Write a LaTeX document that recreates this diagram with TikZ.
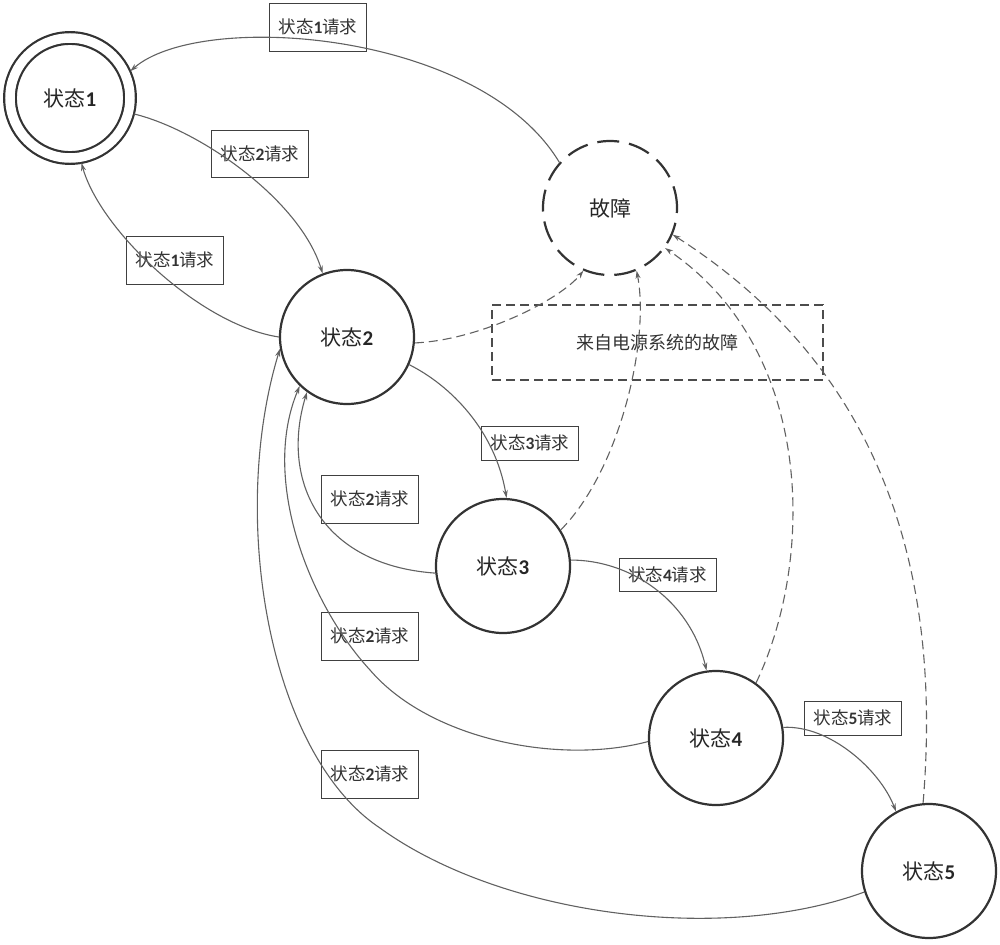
\documentclass[tikz,border=0pt]{standalone}
\usepackage{fontspec}
\setmainfont{Noto Sans CJK SC}
\newfontfamily\dgfont{Carlito}
\newcommand{\dg}[1]{{\dgfont\bfseries #1}}
\usetikzlibrary{arrows.meta}
\begin{document}
\begin{tikzpicture}[x=1pt,y=-1pt,
  state/.style={circle,draw=black!80,line width=2.2pt,minimum size=134pt,inner sep=0pt,
    font=\fontsize{21}{24}\selectfont,text=black!85},
  lbl/.style={draw=black!75,line width=0.9pt,minimum width=97pt,inner sep=0pt,
    font=\fontsize{17.5}{20}\selectfont,text=black!80},
  tr/.style={draw=black!62,line width=1.1pt,-{Stealth[length=8pt,width=5pt]}},
  ftr/.style={tr,dash pattern=on 9pt off 5pt}]
\useasboundingbox (0,0) rectangle (1000,944);

% states
\node[state,double,double distance=9.5pt,minimum size=120pt,outer sep=6pt] (s1) at (70,98) {状态\dg{1}};
\node[state,dash pattern=on 22pt off 10pt] (f) at (610,208) {故障};
\node[state] (s2) at (347,337) {状态\dg{2}};
\node[state] (s3) at (503,566) {状态\dg{3}};
\node[state] (s4) at (716,738) {状态\dg{4}};
\node[state] (s5) at (929,871) {状态\dg{5}};

% power-system fault box
\node[draw=black!70,line width=1.1pt,dash pattern=on 9pt off 5pt,minimum width=331pt,
  minimum height=75pt,inner sep=0pt,font=\fontsize{18}{21}\selectfont,text=black!80] (src) at (657.5,342.5) {来自电源系统的故障};

% labels
\node[lbl,minimum height=48pt] (l1) at (318,27) {状态\dg{1}请求};
\node[lbl,minimum height=47pt] (l2) at (260,154) {状态\dg{2}请求};
\node[lbl,minimum height=48pt] (l3) at (175,260) {状态\dg{1}请求};
\node[lbl,minimum height=34pt] (l4) at (530,443) {状态\dg{3}请求};
\node[lbl,minimum height=48pt] (l5) at (370,499) {状态\dg{2}请求};
\node[lbl,minimum height=33pt] (l6) at (667.5,574.5) {状态\dg{4}请求};
\node[lbl,minimum height=48pt] (l7) at (370,636) {状态\dg{2}请求};
\node[lbl,minimum height=48pt] (l8) at (370,774) {状态\dg{2}请求};
\node[lbl,minimum height=34pt] (l9) at (853,718) {状态\dg{5}请求};

% transitions
\draw[tr] (f.138) .. controls (480,30) and (200,10) .. (s1.24);
\draw[tr] (s1.-14) .. controls (200,130) and (300,200) .. (s2.111);
\draw[tr] (s2.180) .. controls (200,325) and (100,230) .. (s1.-80);
\draw[ftr] (s2.-5) .. controls (480,340) and (560,300) .. (f.-113);
\draw[ftr] (s3.32) .. controls (620,470) and (650,340) .. (f.-67);
\draw[ftr] (s4.54) .. controls (815,560) and (815,350) .. (f.-36);
\draw[ftr] (s5.95) .. controls (940,600) and (900,380) .. (f.-23);
\draw[tr] (s2.-24) .. controls (450,385) and (495,430) .. (s3.87);
\draw[tr] (s3.186) .. controls (320,565) and (280,480) .. (s2.234);
\draw[tr] (s3.5) .. controls (630,560) and (690,600) .. (s4.98);
\draw[tr] (s4.183) .. controls (560,765) and (430,740) .. (370,670)
  .. controls (310,605) and (260,480) .. (s2.226);
\draw[tr] (s4.9) .. controls (830,725) and (880,770) .. (s5.119);
\draw[tr] (s5.198) .. controls (720,945) and (500,915) .. (380,828)
  .. controls (270,755) and (228,520) .. (s2.190);
\end{tikzpicture}
\end{document}
